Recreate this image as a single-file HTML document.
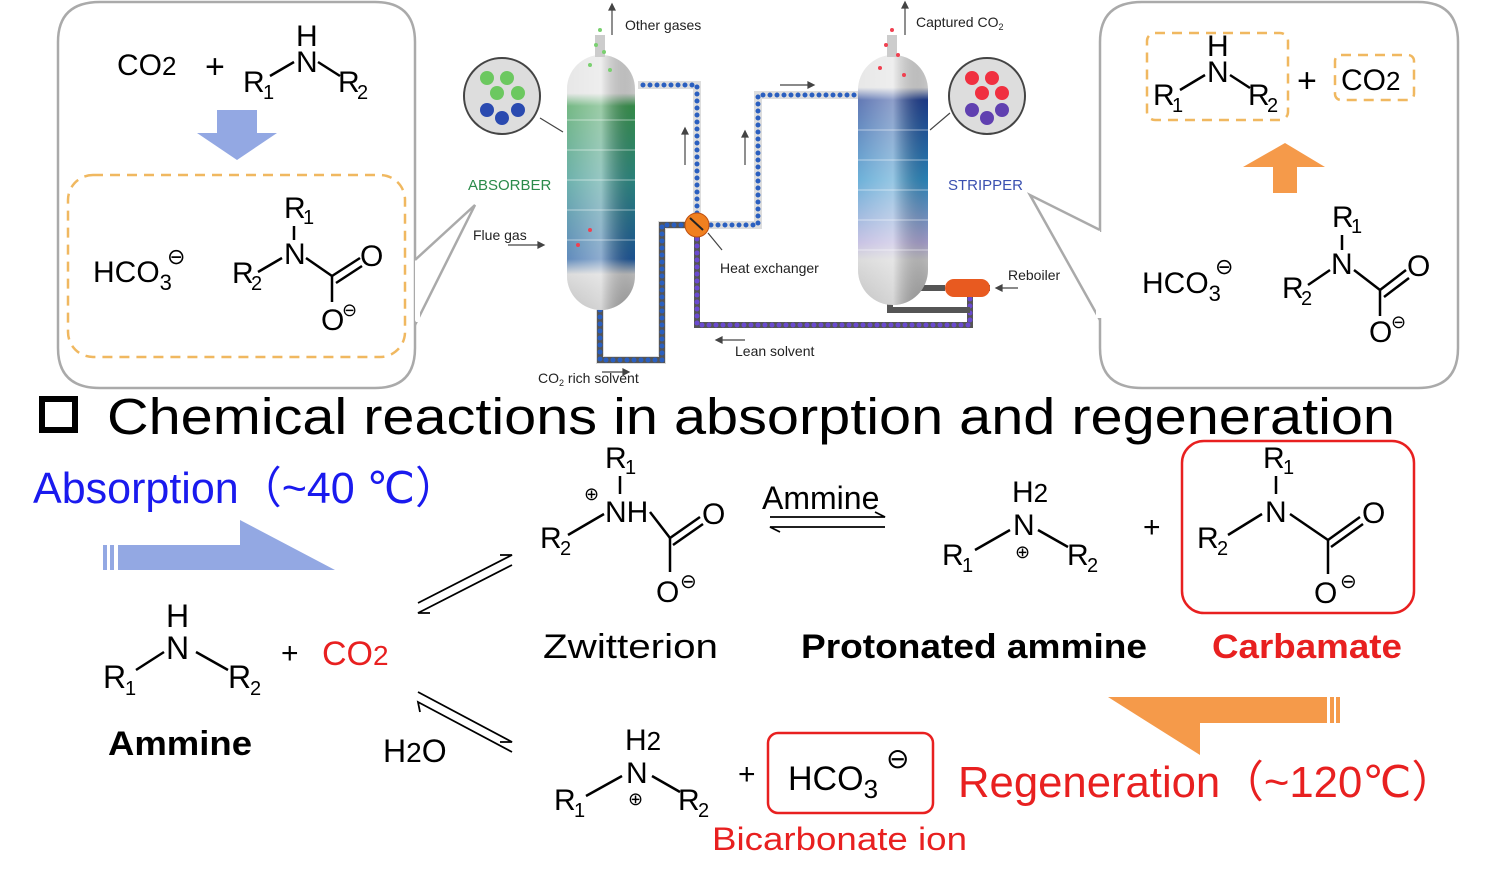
<!DOCTYPE html>
<html><head><meta charset="utf-8"><style>
html,body{margin:0;padding:0;background:#fff;}
svg{display:block;font-family:"Liberation Sans",Arial,sans-serif;}
.s{font-size:30px;}
.sub{font-size:20px;}
.b{stroke:#000;stroke-width:2.5;fill:none;}
.sm{font-size:14px;fill:#222;}
.dot{fill:none;stroke-linecap:round;stroke-dasharray:0 7;stroke-width:5;}
</style></head><body>
<svg width="1500" height="884" viewBox="0 0 1500 884">
<!-- Left bubble -->
<path d="M100,2 H375 Q415,2 415,42 V348 Q415,388 375,388 H100 Q58,388 58,348 V42 Q58,2 100,2 Z" fill="#fff" stroke="#aaa" stroke-width="2.5"/>
<path d="M415,260 L475,205 L415,325" fill="#fff" stroke="#aaa" stroke-width="2.5"/>
<rect x="416" y="262" width="4" height="60" fill="#fff"/>
<rect x="68" y="175" width="337" height="182" rx="25" fill="none" stroke="#f0b860" stroke-width="2.5" stroke-dasharray="10 7"/>
<text x="117" y="75" class="s">CO<tspan font-size="26">2</tspan></text>
<text x="205" y="78" font-size="34">+</text>
<text x="296" y="46" class="s">H</text>
<text x="296" y="72" class="s">N</text>
<text x="243" y="92" class="s">R</text><text x="263" y="99" class="sub">1</text>
<text x="338" y="92" class="s">R</text><text x="357" y="99" class="sub">2</text>
<line x1="270" y1="76" x2="294" y2="62" class="b"/><line x1="318" y1="62" x2="340" y2="76" class="b"/>
<polygon points="217,110 257,110 257,133 277,133 237,160 197,133 217,133" fill="#93a8e3"/>
<text x="93" y="282" class="s">HCO<tspan font-size="22" dy="8">3</tspan></text>
<text x="167" y="264" font-size="22">⊖</text>
<text x="284" y="218" class="s">R</text><text x="303" y="224" class="sub">1</text>
<line x1="294" y1="226" x2="294" y2="240" class="b"/>
<text x="284" y="264" class="s">N</text>
<text x="232" y="283" class="s">R</text><text x="251" y="290" class="sub">2</text>
<line x1="258" y1="272" x2="282" y2="258" class="b"/>
<line x1="306" y1="258" x2="332" y2="276" class="b"/>
<line x1="332" y1="276" x2="360" y2="258" class="b"/><line x1="336" y1="283" x2="362" y2="266" class="b"/>
<text x="360" y="266" class="s">O</text>
<line x1="332" y1="276" x2="332" y2="302" class="b"/>
<text x="321" y="330" class="s">O</text><text x="342" y="316" font-size="18">⊖</text>

<!-- Right bubble -->
<path d="M1142,2 H1418 Q1458,2 1458,42 V348 Q1458,388 1418,388 H1142 Q1100,388 1100,348 V42 Q1100,2 1142,2 Z" fill="#fff" stroke="#aaa" stroke-width="2.5"/>
<path d="M1100,230 L1030,195 L1100,320" fill="#fff" stroke="#aaa" stroke-width="2.5"/>
<rect x="1096" y="232" width="6" height="86" fill="#fff"/>
<rect x="1147" y="33" width="141" height="87" rx="8" fill="none" stroke="#f0b860" stroke-width="2.5" stroke-dasharray="10 7"/>
<rect x="1335" y="55" width="79" height="45" rx="6" fill="none" stroke="#f0b860" stroke-width="2.5" stroke-dasharray="10 7"/>
<text x="1207" y="56" class="s">H</text>
<text x="1207" y="82" class="s">N</text>
<text x="1153" y="105" class="s">R</text><text x="1172" y="112" class="sub">1</text>
<text x="1248" y="105" class="s">R</text><text x="1267" y="112" class="sub">2</text>
<line x1="1180" y1="90" x2="1205" y2="75" class="b"/><line x1="1230" y1="75" x2="1250" y2="88" class="b"/>
<text x="1297" y="92" font-size="34">+</text>
<text x="1341" y="90" class="s">CO<tspan font-size="26">2</tspan></text>
<polygon points="1273,193 1297,193 1297,167 1325,167 1285,143 1243,167 1273,167" fill="#f59a4a"/>
<text x="1142" y="293" class="s">HCO<tspan font-size="22" dy="8">3</tspan></text>
<text x="1215" y="274" font-size="22">⊖</text>
<text x="1332" y="227" class="s">R</text><text x="1351" y="233" class="sub">1</text>
<line x1="1342" y1="235" x2="1342" y2="250" class="b"/>
<text x="1331" y="274" class="s">N</text>
<text x="1282" y="298" class="s">R</text><text x="1301" y="305" class="sub">2</text>
<line x1="1308" y1="285" x2="1330" y2="270" class="b"/>
<line x1="1354" y1="270" x2="1380" y2="290" class="b"/>
<line x1="1380" y1="290" x2="1406" y2="270" class="b"/><line x1="1384" y1="297" x2="1409" y2="278" class="b"/>
<text x="1407" y="276" class="s">O</text>
<line x1="1380" y1="290" x2="1380" y2="316" class="b"/>
<text x="1369" y="342" class="s">O</text><text x="1391" y="328" font-size="18">⊖</text>

<!-- Process diagram -->
<defs>
<linearGradient id="ab" x1="0" y1="0" x2="0" y2="1">
<stop offset="0" stop-color="#ddd"/><stop offset="0.15" stop-color="#ddd"/><stop offset="0.2" stop-color="#3a9a50"/><stop offset="0.5" stop-color="#2e8f8a"/><stop offset="0.8" stop-color="#1e5aa0"/><stop offset="0.86" stop-color="#ccc"/><stop offset="1" stop-color="#aaa"/>
</linearGradient>
<linearGradient id="st" x1="0" y1="0" x2="0" y2="1">
<stop offset="0" stop-color="#ddd"/><stop offset="0.13" stop-color="#ddd"/><stop offset="0.18" stop-color="#1e3f95"/><stop offset="0.5" stop-color="#2e8fc8"/><stop offset="0.75" stop-color="#b0a8d8"/><stop offset="0.82" stop-color="#ccc"/><stop offset="1" stop-color="#aaa"/>
</linearGradient>
<linearGradient id="hz" x1="0" y1="0" x2="1" y2="0">
<stop offset="0" stop-color="#fff" stop-opacity="0.3"/><stop offset="0.5" stop-color="#fff" stop-opacity="0.5"/><stop offset="1" stop-color="#000" stop-opacity="0.1"/>
</linearGradient>
</defs>
<path d="M600,310 V360 H662 V225 H697 V85 H638" fill="none" stroke="#ddd" stroke-width="8"/>
<path d="M600,310 V360 H662 V225 H697" fill="none" stroke="#555" stroke-width="6"/>
<path d="M600,310 V360 H662 V225 H697 V85 H638" class="dot" stroke="#2a5fc0"/>
<path d="M697,225 H758 V95 H858" fill="none" stroke="#ddd" stroke-width="8"/>
<path d="M697,225 H758 V95 H858" class="dot" stroke="#2a5fc0"/>
<path d="M697,225 V325 H970 V288 H990" fill="none" stroke="#555" stroke-width="6"/>
<path d="M697,225 V325 H970 V288" class="dot" stroke="#6a4ad0"/>
<path d="M890,300 V310 H970" fill="none" stroke="#555" stroke-width="6"/>
<path d="M920,288 H945" fill="none" stroke="#555" stroke-width="6"/>
<rect x="945" y="279" width="45" height="18" rx="9" fill="#e85a20"/>
<circle cx="697" cy="225" r="12" fill="#f08020" stroke="#c05010"/>
<path d="M690,218 L703,230" stroke="#222" stroke-width="2"/>
<rect x="567" y="55" width="68" height="255" rx="34" fill="url(#ab)"/>
<rect x="567" y="55" width="68" height="255" rx="34" fill="url(#hz)"/>
<rect x="858" y="55" width="70" height="250" rx="35" fill="url(#st)"/>
<rect x="858" y="55" width="70" height="250" rx="35" fill="url(#hz)"/>
<rect x="595" y="35" width="10" height="22" fill="#ccc"/>
<rect x="887" y="35" width="10" height="22" fill="#ccc"/>
<g stroke="#fff" stroke-opacity="0.5" stroke-width="1">
<line x1="567" y1="120" x2="635" y2="120"/><line x1="567" y1="150" x2="635" y2="150"/><line x1="567" y1="180" x2="635" y2="180"/><line x1="567" y1="210" x2="635" y2="210"/><line x1="567" y1="240" x2="635" y2="240"/>
<line x1="858" y1="130" x2="928" y2="130"/><line x1="858" y1="160" x2="928" y2="160"/><line x1="858" y1="190" x2="928" y2="190"/><line x1="858" y1="220" x2="928" y2="220"/><line x1="858" y1="250" x2="928" y2="250"/>
</g>
<g fill="#7ad070"><circle cx="600" cy="30" r="2"/><circle cx="596" cy="45" r="2"/><circle cx="604" cy="52" r="2"/><circle cx="590" cy="65" r="2"/><circle cx="610" cy="70" r="2"/></g>
<g fill="#f04050"><circle cx="892" cy="30" r="2"/><circle cx="886" cy="45" r="2"/><circle cx="898" cy="55" r="2"/><circle cx="880" cy="68" r="2"/><circle cx="904" cy="75" r="2"/><circle cx="590" cy="230" r="2"/><circle cx="578" cy="245" r="2"/></g>
<circle cx="502" cy="96" r="38" fill="#ddd" stroke="#444" stroke-width="2"/>
<g fill="#6cc860"><circle cx="487" cy="78" r="7"/><circle cx="507" cy="78" r="7"/><circle cx="497" cy="93" r="7"/><circle cx="518" cy="93" r="7"/></g>
<g fill="#2a4ab0"><circle cx="487" cy="110" r="7"/><circle cx="518" cy="110" r="7"/><circle cx="502" cy="118" r="7"/></g>
<circle cx="987" cy="96" r="38" fill="#ddd" stroke="#444" stroke-width="2"/>
<g fill="#f03040"><circle cx="972" cy="78" r="7"/><circle cx="992" cy="78" r="7"/><circle cx="982" cy="93" r="7"/><circle cx="1002" cy="93" r="7"/></g>
<g fill="#6040b0"><circle cx="972" cy="110" r="7"/><circle cx="1002" cy="110" r="7"/><circle cx="987" cy="118" r="7"/></g>
<g stroke="#444" stroke-width="1.2" fill="#444">
<line x1="612" y1="35" x2="612" y2="8"/><polygon points="609,10 615,10 612,4"/>
<line x1="905" y1="35" x2="905" y2="6"/><polygon points="902,8 908,8 905,2"/>
<line x1="685" y1="165" x2="685" y2="132"/><polygon points="682,134 688,134 685,128"/>
<line x1="745" y1="165" x2="745" y2="135"/><polygon points="742,137 748,137 745,131"/>
<line x1="780" y1="85" x2="810" y2="85"/><polygon points="808,82 808,88 814,85"/>
<line x1="508" y1="245" x2="540" y2="245"/><polygon points="538,242 538,248 544,245"/>
<line x1="602" y1="372" x2="625" y2="372"/><polygon points="623,369 623,375 629,372"/>
<line x1="720" y1="340" x2="745" y2="340"/><polygon points="722,337 722,343 716,340"/>
<line x1="1000" y1="288" x2="1018" y2="288"/><polygon points="1002,285 1002,291 996,288"/>
<line x1="540" y1="118" x2="563" y2="132"/><line x1="930" y1="130" x2="950" y2="113"/><line x1="708" y1="233" x2="722" y2="250"/>
</g>
<text x="625" y="30" class="sm">Other gases</text>
<text x="916" y="27" class="sm">Captured CO<tspan font-size="9" dy="3">2</tspan></text>
<text x="468" y="190" font-size="15" fill="#2a8a4a">ABSORBER</text>
<text x="948" y="190" font-size="15" fill="#3a50b0">STRIPPER</text>
<text x="473" y="240" class="sm">Flue gas</text>
<text x="720" y="273" class="sm">Heat exchanger</text>
<text x="1008" y="280" class="sm">Reboiler</text>
<text x="735" y="356" class="sm">Lean solvent</text>
<text x="538" y="383" class="sm">CO<tspan font-size="9" dy="3">2</tspan><tspan dy="-3"> rich solvent</tspan></text>

<!-- Title -->
<rect x="42" y="399" width="33" height="31" fill="none" stroke="#000" stroke-width="6"/>
<text x="107" y="434" font-size="51" textLength="1288" lengthAdjust="spacingAndGlyphs">Chemical reactions in absorption and regeneration</text>

<text x="33" y="503" font-size="44" fill="#1a1aee" textLength="425" lengthAdjust="spacingAndGlyphs">Absorption<tspan font-family="'Noto Sans CJK JP',sans-serif">（</tspan>~40 ℃<tspan font-family="'Noto Sans CJK JP',sans-serif">）</tspan></text>
<polygon points="118,545 240,545 240,520 335,570 118,570" fill="#93a8e3"/>
<rect x="103" y="545" width="4" height="25" fill="#93a8e3"/><rect x="110" y="545" width="4" height="25" fill="#93a8e3"/>

<polygon points="1108,697 1327,697 1327,723 1200,723 1200,755" fill="#f59a4a"/>
<rect x="1330" y="697" width="4" height="26" fill="#f59a4a"/><rect x="1336" y="697" width="4" height="26" fill="#f59a4a"/>

<!-- Ammine -->
<text x="166" y="627" font-size="32">H</text>
<text x="166" y="659" font-size="32">N</text>
<text x="103" y="688" font-size="32">R</text><text x="125" y="695" class="sub">1</text>
<text x="228" y="688" font-size="32">R</text><text x="250" y="695" class="sub">2</text>
<line x1="136" y1="670" x2="164" y2="652" class="b"/><line x1="196" y1="652" x2="228" y2="670" class="b"/>
<text x="281" y="663" font-size="30">+</text>
<text x="322" y="665" font-size="34" fill="#e82020">CO<tspan font-size="28">2</tspan></text>
<text x="108" y="755" font-size="34" font-weight="bold" textLength="144" lengthAdjust="spacingAndGlyphs">Ammine</text>
<text x="383" y="762" font-size="32">H<tspan font-size="28">2</tspan>O</text>
<g stroke="#000" stroke-width="1.8" fill="none">
<path d="M418,603 L512,555 L500,555"/><path d="M512,565 L418,613 L430,613"/>
<path d="M418,692 L512,742 L500,742"/><path d="M512,752 L418,702 L420,712"/>
<path d="M770,517 H885 L875,512"/><path d="M885,527 H770 L780,532"/>
</g>

<!-- Zwitterion -->
<text x="605" y="468" font-size="30">R</text><text x="625" y="474" class="sub">1</text>
<line x1="620" y1="476" x2="620" y2="494" class="b"/>
<text x="584" y="500" font-size="18">⊕</text>
<text x="605" y="522" font-size="30">NH</text>
<text x="540" y="548" font-size="30">R</text><text x="560" y="555" class="sub">2</text>
<line x1="568" y1="535" x2="604" y2="514" class="b"/>
<line x1="650" y1="512" x2="670" y2="538" class="b"/>
<line x1="670" y1="538" x2="700" y2="517" class="b"/><line x1="673" y1="545" x2="703" y2="524" class="b"/>
<text x="702" y="524" font-size="30">O</text>
<line x1="670" y1="538" x2="670" y2="572" class="b"/>
<text x="656" y="602" font-size="30">O</text><text x="680" y="588" font-size="20">⊖</text>
<text x="543" y="658" font-size="34" textLength="175" lengthAdjust="spacingAndGlyphs">Zwitterion</text>
<text x="762" y="509" font-size="32">Ammine</text>

<!-- Protonated ammine -->
<text x="1012" y="502" font-size="30">H<tspan font-size="26">2</tspan></text>
<text x="1013" y="535" font-size="30">N</text>
<text x="1015" y="558" font-size="18">⊕</text>
<text x="942" y="565" font-size="30">R</text><text x="962" y="572" class="sub">1</text>
<text x="1067" y="565" font-size="30">R</text><text x="1087" y="572" class="sub">2</text>
<line x1="975" y1="550" x2="1010" y2="530" class="b"/><line x1="1038" y1="530" x2="1068" y2="547" class="b"/>
<text x="1143" y="537" font-size="30">+</text>
<text x="801" y="658" font-size="34" font-weight="bold" textLength="346" lengthAdjust="spacingAndGlyphs">Protonated ammine</text>

<!-- Carbamate -->
<rect x="1182" y="441" width="232" height="172" rx="22" fill="none" stroke="#e82020" stroke-width="2.5"/>
<text x="1263" y="468" font-size="30">R</text><text x="1283" y="474" class="sub">1</text>
<line x1="1276" y1="476" x2="1276" y2="494" class="b"/>
<text x="1265" y="522" font-size="30">N</text>
<text x="1197" y="548" font-size="30">R</text><text x="1217" y="555" class="sub">2</text>
<line x1="1228" y1="535" x2="1262" y2="514" class="b"/>
<line x1="1290" y1="514" x2="1328" y2="540" class="b"/>
<line x1="1328" y1="540" x2="1360" y2="517" class="b"/><line x1="1331" y1="547" x2="1363" y2="524" class="b"/>
<text x="1362" y="523" font-size="30">O</text>
<line x1="1328" y1="540" x2="1328" y2="574" class="b"/>
<text x="1314" y="603" font-size="30">O</text><text x="1340" y="588" font-size="20">⊖</text>
<text x="1212" y="658" font-size="34" font-weight="bold" fill="#e82020" textLength="190" lengthAdjust="spacingAndGlyphs">Carbamate</text>

<!-- Bicarbonate -->
<text x="625" y="750" font-size="30">H<tspan font-size="26">2</tspan></text>
<text x="626" y="783" font-size="30">N</text>
<text x="628" y="805" font-size="18">⊕</text>
<text x="554" y="810" font-size="30">R</text><text x="574" y="817" class="sub">1</text>
<text x="678" y="810" font-size="30">R</text><text x="698" y="817" class="sub">2</text>
<line x1="586" y1="796" x2="622" y2="776" class="b"/><line x1="652" y1="776" x2="680" y2="792" class="b"/>
<text x="738" y="784" font-size="30">+</text>
<rect x="768" y="733" width="165" height="80" rx="10" fill="none" stroke="#e82020" stroke-width="2.5"/>
<text x="788" y="790" font-size="34">HCO<tspan font-size="26" dy="8">3</tspan></text>
<text x="886" y="768" font-size="28">⊖</text>
<text x="712" y="850" font-size="32" fill="#e82020" textLength="255" lengthAdjust="spacingAndGlyphs">Bicarbonate ion</text>
<text x="958" y="797" font-size="44" fill="#e82020" textLength="497" lengthAdjust="spacingAndGlyphs">Regeneration<tspan font-family="'Noto Sans CJK JP',sans-serif">（</tspan>~120℃<tspan font-family="'Noto Sans CJK JP',sans-serif">）</tspan></text>
</svg>
</body></html>
